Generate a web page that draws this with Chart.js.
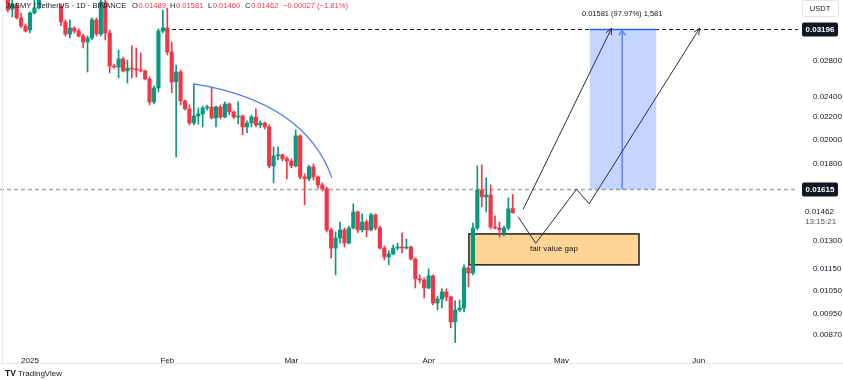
<!DOCTYPE html>
<html><head><meta charset="utf-8">
<script src="https://cdn.jsdelivr.net/npm/chart.js@4/dist/chart.umd.min.js"></script>
<style>html,body{margin:0;padding:0;background:#fff;overflow:hidden}#wrap{width:843px;height:380px;position:relative}</style>
</head><body><div id="wrap"><canvas id="c" width="843" height="380"></canvas></div>
<script>
// ---- data (JASMY / TetherUS, 1D) ----
const firstCandleDate = '2024-12-27';
const opens = [.03671,.03488,.03548,.03357,.03245,.03189,.03429,.03502,.03690,.03800,.03860,.03950,.03530,.03301,.03135,.03217,.03175,.03108,.03030,.03082,.03329,.03135,.03593,.03148,.02734,.02723,.02818,.02678,.02711,.02699,.02690,.02678,.02588,.02346,.02491,.03175,.03217,.02903,.02555,.02666,.02356,.02277,.02145,.02210,.02229,.02287,.02296,.02191,.02296,.02200,.02326,.02248,.02200,.02210,.02109,.02145,.02200,.02127,.02145,.02109,.01786,.01864,.01872,.01840,.01824,.01786,.02030,.01704,.01690,.01778,.01704,.01647,.01619,.01359,.01258,.01313,.01359,.01285,.01370,.01467,.01359,.01406,.01359,.01449,.01370,.01258,.01211,.01227,.01258,.01264,.01258,.01264,.01201,.01103,.01098,.01061,.01117,.00995,.01012,.01043,.01021,.00918,.00966,.00974,.01156,.01131,.01370,.01612,.01565,.01578,.01376,.01370,.01340,.01370,.01489];
const highs = [.03718,.03624,.03578,.03429,.03273,.03444,.03624,.03740,.03850,.03920,.04000,.03980,.03560,.03329,.03329,.03231,.03204,.03135,.03108,.03357,.03357,.03624,.03655,.03189,.02758,.02928,.02842,.02805,.02979,.02953,.02891,.02689,.02610,.02512,.03204,.03473,.03502,.03030,.02746,.02689,.02366,.02316,.02533,.02287,.02306,.02316,.02501,.02306,.02316,.02346,.02336,.02257,.02346,.02219,.02164,.02219,.02277,.02164,.02155,.02127,.01936,.01936,.01880,.01856,.01840,.02083,.02039,.01726,.01793,.01801,.01712,.01661,.01633,.01370,.01347,.01406,.01370,.01382,.01519,.01474,.01455,.01418,.01461,.01455,.01382,.01269,.01243,.01275,.01285,.01342,.01308,.01269,.01206,.01122,.01108,.01151,.01122,.01025,.01057,.01057,.01025,.01004,.01008,.01171,.01166,.01400,.01786,.01793,.01697,.01647,.01443,.01406,.01382,.01558,.01581];
const lows = [.03444,.03371,.03342,.03217,.03162,.03148,.03414,.03488,.03660,.03700,.03780,.03660,.03245,.03108,.03082,.03148,.03095,.02953,.02666,.03056,.03108,.03108,.03056,.02655,.02711,.02599,.02666,.02544,.02599,.02610,.02666,.02577,.02316,.02326,.02449,.03148,.02866,.02439,.01856,.02316,.02267,.02127,.02127,.02136,.02109,.02267,.02182,.02109,.02182,.02191,.02219,.02182,.02136,.02039,.02057,.02109,.02109,.02100,.02091,.01771,.01661,.01832,.01824,.01690,.01771,.01778,.01690,.01512,.01675,.01682,.01626,.01605,.01347,.01206,.01122,.01285,.01264,.01280,.01365,.01342,.01347,.01319,.01353,.01359,.01253,.01196,.01171,.01222,.01248,.01232,.01253,.01196,.01061,.01084,.01017,.01057,.00987,.00966,.00974,.01004,.00895,.00832,.00958,.00958,.01066,.01122,.01359,.01500,.01467,.01365,.01365,.01319,.01325,.01359,.01460];
const closes = [.03473,.03563,.03357,.03245,.03175,.03429,.03502,.03690,.03800,.03860,.03950,.03700,.03301,.03135,.03217,.03175,.03108,.03030,.03082,.03329,.03135,.03593,.03148,.02734,.02723,.02818,.02678,.02711,.02699,.02690,.02678,.02588,.02346,.02491,.03175,.03217,.02903,.02555,.02666,.02356,.02277,.02145,.02210,.02229,.02287,.02296,.02191,.02296,.02200,.02326,.02248,.02200,.02210,.02109,.02145,.02200,.02127,.02145,.02109,.01786,.01864,.01872,.01840,.01824,.01786,.02030,.01704,.01690,.01778,.01704,.01647,.01619,.01359,.01258,.01313,.01359,.01285,.01370,.01467,.01359,.01406,.01359,.01449,.01370,.01258,.01211,.01227,.01258,.01264,.01258,.01264,.01201,.01103,.01098,.01061,.01117,.00995,.01012,.01043,.01021,.00918,.00966,.00974,.01156,.01131,.01370,.01612,.01565,.01578,.01376,.01370,.01359,.01370,.01487,.01462];
const monthTickDays = [0, 31, 59, 90, 120, 151];          // days since 2025-01-01
const monthTickLabels = ['2025', 'Feb', 'Mar', 'Apr', 'May', 'Jun'];
const priceTickValues = [0.0087, 0.0095, 0.0105, 0.0115, 0.013, 0.018, 0.02, 0.022, 0.024, 0.028];
const targetPrice = 0.03196;
const breakoutPrice = 0.01615;
const lastPrice = 0.01462;
const barCountdown = '13:15:21';
const headerTitle = 'JASMY / TetherUS · 1D · BINANCE';
const headerOHLC = [['O', '0.01489'], ['H', '0.01581'], ['L', '0.01460'], ['C', '0.01462']];
const headerChange = '−0.00027 (−1.81%)';
const targetLabel = '0.01581 (97.97%) 1,581';
const fvgLabel = 'fair value gap';

// ---- drawings, in chart units (day since 2025-01-01, price) ----
const drawings = {
  targetBox: { d0: 126.4, d1: 141.4, lo: breakoutPrice, hi: targetPrice, mid: 133.7 },
  fvg: { d0: 99.1, d1: 137.5, hi: 0.01336, lo: 0.01171 },
  targetDashStart: 30.5,
  arrow1: [[111.35, 0.01484], [131.3, 0.03213]],
  zigzag: [[110.2, 0.01438], [114.2, 0.01284], [123.4, 0.01617], [126.25, 0.01519], [151.2, 0.03213]],
  arc: [[37.02, 0.02533], [62.08, 0.02346], [68.17, 0.01697]]
};

const DAY = 86400000;
const startDay = Math.round((Date.parse(firstCandleDate + 'T00:00:00Z') - Date.UTC(2025, 0, 1)) / DAY);
const dayX = opens.map((_, i) => startDay + i);
const GREEN = '#089981', RED = '#f23645', INK = '#131722';
const colors = opens.map((o, i) => closes[i] >= o ? GREEN : RED);
const FONT = '"Liberation Sans", Arial, sans-serif';
Chart.defaults.font.family = FONT;

function arrowHead(ctx, x0, y0, x1, y1, len, ang) {
  const a = Math.atan2(y1 - y0, x1 - x0);
  ctx.beginPath();
  ctx.moveTo(x1 - len * Math.cos(a - ang), y1 - len * Math.sin(a - ang));
  ctx.lineTo(x1, y1);
  ctx.lineTo(x1 - len * Math.cos(a + ang), y1 - len * Math.sin(a + ang));
  ctx.stroke();
}

const annot = {
  id: 'annot',
  beforeDatasetsDraw(chart) {
    const { ctx, chartArea: a, scales: { x, y } } = chart;
    ctx.save();
    ctx.beginPath(); ctx.rect(a.left, a.top, a.right - a.left, a.bottom - a.top); ctx.clip();
    ctx.setLineDash([4, 3]);
    ctx.strokeStyle = '#a3a6af'; ctx.lineWidth = 1.5;
    const by = Math.round(y.getPixelForValue(breakoutPrice)) + 0.5;
    ctx.beginPath(); ctx.moveTo(a.left, by); ctx.lineTo(a.right, by); ctx.stroke();
    ctx.strokeStyle = INK; ctx.lineWidth = 1;
    const ty = Math.round(y.getPixelForValue(targetPrice)) + 0.5;
    ctx.beginPath(); ctx.moveTo(x.getPixelForValue(drawings.targetDashStart), ty); ctx.lineTo(a.right, ty); ctx.stroke();
    ctx.setLineDash([]);
    const tb = drawings.targetBox;
    const bx0 = x.getPixelForValue(tb.d0), bx1 = x.getPixelForValue(tb.d1);
    const bTop = y.getPixelForValue(tb.hi), bBot = y.getPixelForValue(tb.lo);
    ctx.fillStyle = '#ffffff'; ctx.fillRect(bx0, bTop - 1, bx1 - bx0, 2);
    ctx.fillStyle = 'rgba(41,98,255,0.27)';
    ctx.fillRect(bx0, bTop, bx1 - bx0, bBot - bTop);
    ctx.strokeStyle = '#2962ff'; ctx.lineWidth = 1.5;
    ctx.beginPath(); ctx.moveTo(bx0, bTop); ctx.lineTo(bx1, bTop); ctx.stroke();
    const f = drawings.fvg;
    const fx0 = x.getPixelForValue(f.d0), fx1 = x.getPixelForValue(f.d1);
    const fy0 = y.getPixelForValue(f.hi), fy1 = y.getPixelForValue(f.lo);
    ctx.fillStyle = 'rgba(255,152,0,0.42)';
    ctx.fillRect(fx0, fy0, fx1 - fx0, fy1 - fy0);
    ctx.strokeStyle = '#1e1e1e'; ctx.lineWidth = 1.5;
    ctx.strokeRect(fx0, fy0, fx1 - fx0, fy1 - fy0);
    ctx.fillStyle = INK; ctx.font = '8px ' + FONT; ctx.textAlign = 'center'; ctx.textBaseline = 'middle';
    ctx.fillText(fvgLabel, (fx0 + fx1) / 2, (fy0 + fy1) / 2 - 1);
    ctx.restore();
  },
  afterDatasetsDraw(chart) {
    const { ctx, chartArea: a, scales: { x, y } } = chart;
    const P = p => [x.getPixelForValue(p[0]), y.getPixelForValue(p[1])];
    ctx.save();
    ctx.beginPath(); ctx.rect(a.left, a.top - 2, a.right - a.left, a.bottom - a.top + 2); ctx.clip();
    const [p0, c1, p2] = drawings.arc.map(P);
    ctx.strokeStyle = '#4f7cf7'; ctx.lineWidth = 1.3;
    ctx.beginPath(); ctx.moveTo(p0[0], p0[1]); ctx.quadraticCurveTo(c1[0], c1[1], p2[0], p2[1]); ctx.stroke();
    const tb = drawings.targetBox;
    const vx = x.getPixelForValue(tb.mid);
    const vTop = y.getPixelForValue(tb.hi), vBot = y.getPixelForValue(tb.lo);
    ctx.strokeStyle = '#5b86f7'; ctx.lineWidth = 1.5;
    ctx.beginPath(); ctx.moveTo(vx, vBot); ctx.lineTo(vx, vTop + 1); ctx.stroke();
    arrowHead(ctx, vx, vBot, vx, vTop + 1, 6, 0.6);
    ctx.strokeStyle = '#2a2e39'; ctx.lineWidth = 1;
    const a1 = drawings.arrow1.map(P);
    ctx.beginPath(); ctx.moveTo(a1[0][0], a1[0][1]); ctx.lineTo(a1[1][0], a1[1][1]); ctx.stroke();
    arrowHead(ctx, a1[0][0], a1[0][1], a1[1][0], a1[1][1], 7, 0.42);
    const zz = drawings.zigzag.map(P);
    ctx.beginPath(); ctx.moveTo(zz[0][0], zz[0][1]);
    for (let i = 1; i < zz.length; i++) ctx.lineTo(zz[i][0], zz[i][1]);
    ctx.stroke();
    const n = zz.length;
    arrowHead(ctx, zz[n - 2][0], zz[n - 2][1], zz[n - 1][0], zz[n - 1][1], 7, 0.42);
    ctx.restore();
    ctx.save();
    ctx.fillStyle = INK; ctx.font = '7.5px ' + FONT; ctx.textAlign = 'center'; ctx.textBaseline = 'middle';
    ctx.fillText(targetLabel, vx, vTop - 15.5);
    ctx.restore();
  },
  afterDraw(chart) {
    const { ctx, scales: { y } } = chart;
    ctx.save();
    const badge = (price, text) => {
      const py = y.getPixelForValue(price);
      ctx.fillStyle = INK;
      ctx.beginPath(); ctx.roundRect(802, py - 7, 36, 14, 2); ctx.fill();
      ctx.fillStyle = '#ffffff'; ctx.font = 'bold 8px ' + FONT; ctx.textAlign = 'center'; ctx.textBaseline = 'middle';
      ctx.fillText(text, 820, py + 0.5);
    };
    badge(targetPrice, targetPrice.toFixed(5));
    badge(breakoutPrice, breakoutPrice.toFixed(5));
    const ly = y.getPixelForValue(lastPrice);
    ctx.fillStyle = INK; ctx.font = '8px ' + FONT; ctx.textAlign = 'left'; ctx.textBaseline = 'middle';
    ctx.fillText(lastPrice.toFixed(5), 805, ly - 1);
    ctx.fillStyle = '#50535e';
    ctx.fillText(barCountdown, 805, ly + 9);
    ctx.strokeStyle = '#e0e3eb'; ctx.lineWidth = 1;
    ctx.beginPath(); ctx.roundRect(802.5, 0.5, 36, 16, 2); ctx.stroke();
    ctx.fillStyle = INK; ctx.textAlign = 'center'; ctx.font = '7.5px ' + FONT;
    ctx.fillText('USDT', 820, 9);
    ctx.strokeStyle = '#e6e8ee';
    ctx.beginPath(); ctx.moveTo(2.5, 0); ctx.lineTo(2.5, 363); ctx.stroke();
    ctx.beginPath(); ctx.moveTo(0, 363.5); ctx.lineTo(843, 363.5); ctx.stroke();
    ctx.textAlign = 'left'; ctx.textBaseline = 'middle'; ctx.font = '7.6px ' + FONT;
    ctx.fillStyle = INK; ctx.fillText(headerTitle, 6, 5.5);
    const hx = [132, 170, 208, 245];
    headerOHLC.forEach(([k, v], i) => {
      ctx.fillStyle = INK; ctx.fillText(k, hx[i], 5.5);
      const w = ctx.measureText(k).width;
      ctx.fillStyle = RED; ctx.fillText(v, hx[i] + w + 0.5, 5.5);
    });
    ctx.fillStyle = RED; ctx.fillText(headerChange, 283, 5.5);
    ctx.fillStyle = INK; ctx.font = 'bold 8.5px ' + FONT; ctx.fillText('TV', 5, 374);
    ctx.font = '8px ' + FONT; ctx.fillText('TradingView', 18, 374);
    ctx.restore();
  }
};

new Chart(document.getElementById('c'), {
  type: 'bar',
  data: {
    datasets: [
      { label: 'wick', data: dayX.map((d, i) => ({ x: d, y: [lows[i], highs[i]] })), backgroundColor: colors,
        barThickness: 1, grouped: false, borderWidth: 0, order: 2, clip: 0 },
      { label: 'body', data: dayX.map((d, i) => ({ x: d, y: [Math.min(opens[i], closes[i]), Math.max(opens[i], closes[i])] })),
        backgroundColor: colors, barThickness: 3.5, minBarLength: 1, grouped: false, borderWidth: 0, order: 1, clip: 0 }
    ]
  },
  options: {
    responsive: false, animation: false, events: [],
    layout: { padding: { top: 0, left: 0, right: 0, bottom: 17 } },
    plugins: { legend: { display: false }, tooltip: { enabled: false } },
    scales: {
      x: {
        type: 'linear', min: -6.77, max: 173.4, offset: false,
        grid: { display: false }, border: { display: false },
        afterBuildTicks: s => { s.ticks = monthTickDays.map(v => ({ value: v })); },
        ticks: { autoSkip: false, maxRotation: 0, padding: 5, color: INK, font: { size: 8 },
          callback: v => { const k = monthTickDays.indexOf(v); return k >= 0 ? monthTickLabels[k] : ''; } },
        afterFit: s => { s.height = 20; s.paddingLeft = 0; s.paddingRight = 0; }
      },
      y: {
        type: 'logarithmic', position: 'right', min: 0.00839, max: 0.03624,
        grid: { display: false }, border: { display: false },
        afterBuildTicks: s => { s.ticks = priceTickValues.map(v => ({ value: v })); },
        ticks: { autoSkip: false, padding: 7, color: INK, font: { size: 8 }, callback: v => Number(v).toFixed(5) },
        afterFit: s => { s.width = 45; s.paddingTop = 0; s.paddingBottom = 0; }
      }
    }
  },
  plugins: [annot]
});
</script></body></html>
